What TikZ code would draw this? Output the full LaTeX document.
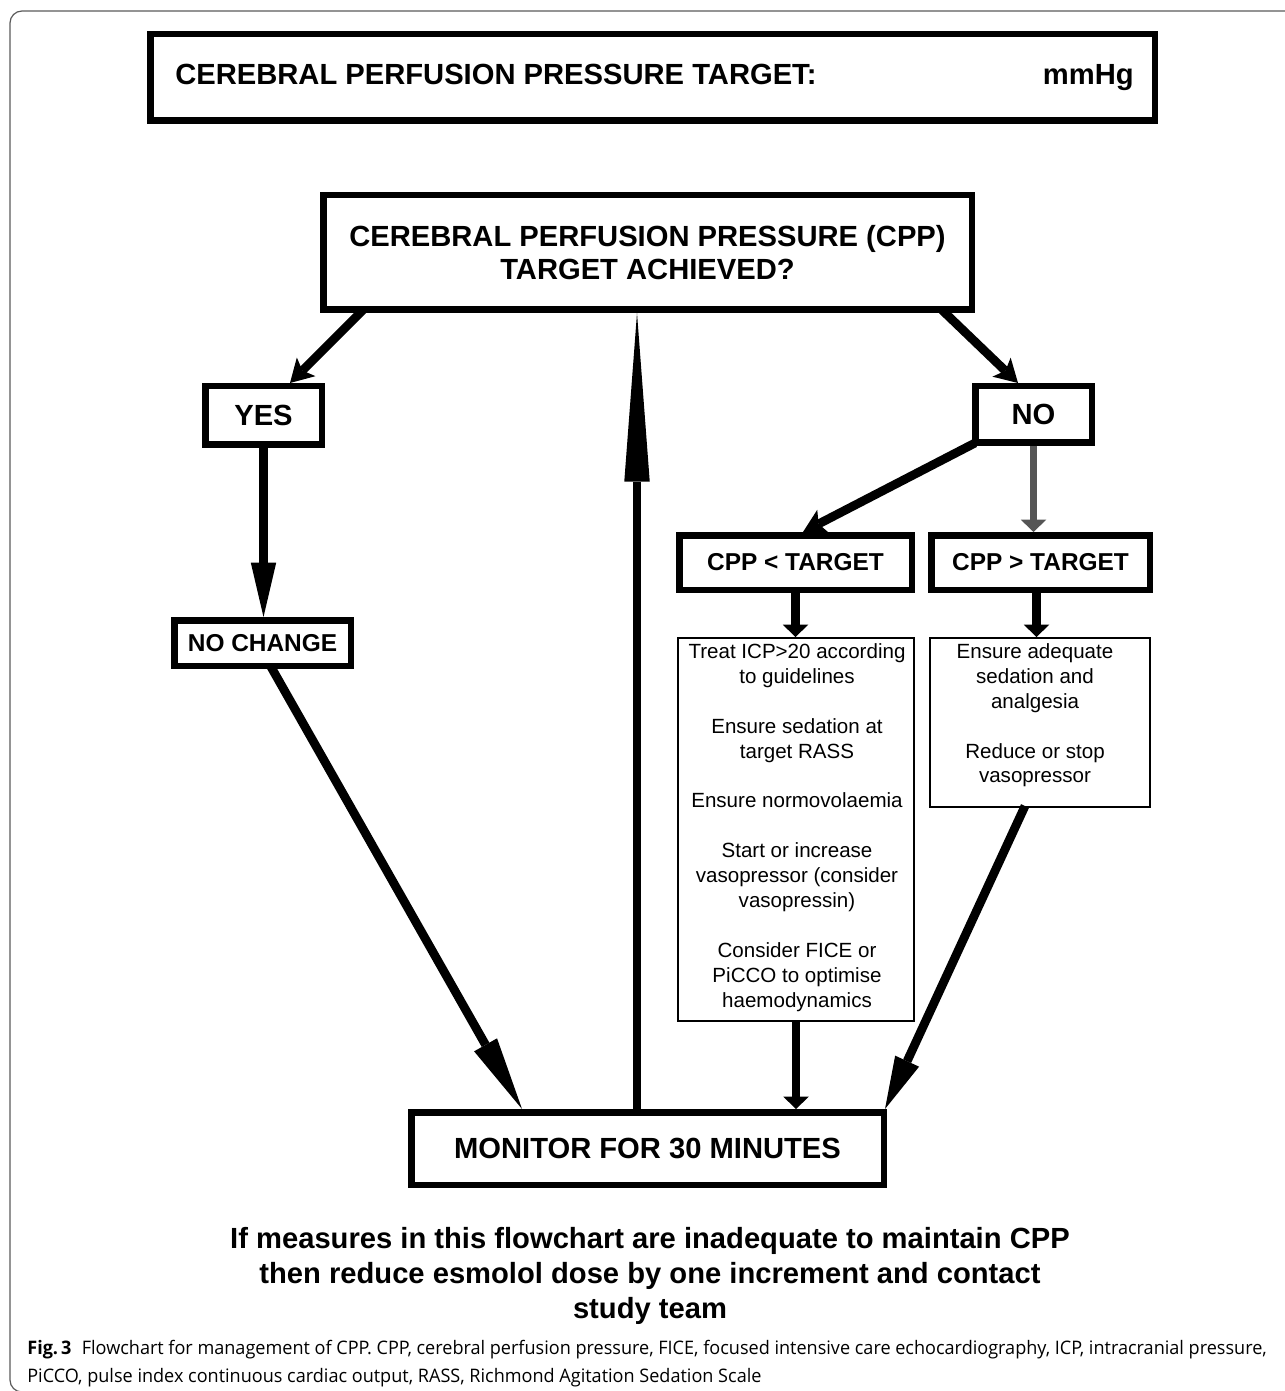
\documentclass[tikz,border=0pt]{standalone}
\usepackage{fontspec}
\setmainfont{Liberation Sans}
\newfontfamily\capfont[FakeStretch=0.97]{Open Sans}
\usetikzlibrary{arrows.meta,calc}
\definecolor{arrgray}{RGB}{85,85,85}
\definecolor{framegray}{RGB}{90,90,90}
\newcommand\headfont{\bfseries\fontsize{16.6}{18.7}\selectfont}
\newcommand\midfont{\bfseries\fontsize{13.9}{16}\selectfont}
\newcommand\bodyfont{\fontsize{11.7}{14.2}\selectfont}
\tikzset{
  hbox/.style n args={4}{draw, line width=3.7pt, inner sep=0pt, align=center, font=\headfont,
    at={({(#1+#3)/2},{(#2+#4)/2})},
    minimum width={(#3-#1-6.5)*0.02cm}, minimum height={(#4-#2-6.5)*0.02cm}},
  lbox/.style n args={4}{draw, line width=0.9pt, inner sep=0pt,
    at={({(#1+#3)/2},{(#2+#4)/2})},
    minimum width={(#3-#1-1.6)*0.02cm}, minimum height={(#4-#2-1.6)*0.02cm}},
  btext/.style={font=\bodyfont, align=center, anchor=north, inner sep=0pt},
  captext/.style={anchor=base west, inner sep=0pt, font=\capfont\fontsize{10.6}{16}\selectfont},
  arr/.style={line width=5pt},
  garr/.style={line width=4.5pt, draw=arrgray},
  barb/.style={-{Stealth[length=13pt,width=15pt,inset=3pt,line width=0pt]}},
  shorttip/.style={-{Triangle[length=7pt,width=14.5pt,line width=0pt]}},
}
\begin{document}
\begin{tikzpicture}[x=0.02cm,y=-0.02cm]
\useasboundingbox (0,0) rectangle (1284,1391);
\draw[framegray, line width=0.7pt, rounded corners=0.24cm] (10,11) rectangle (1300,1392);

% boxes
\node[hbox={147}{31}{1158}{124}] (T) {};
\node[anchor=base west, font=\headfont, inner sep=0pt] (Tl) at (175,85) {CEREBRAL PERFUSION PRESSURE TARGET:};
\node[anchor=base east, font=\headfont, inner sep=0pt] (Tr) at (1134,85) {mmHg};
\node[hbox={320}{192}{975}{313}] (Q) {CEREBRAL PERFUSION PRESSURE (CPP)\\TARGET ACHIEVED?};
\node[hbox={202}{383}{325}{448}] (YES) {YES};
\node[hbox={972}{383}{1095}{446}] (NO) {NO};
\node[hbox={171}{617}{354}{669}, font=\midfont] (NOCH) {NO CHANGE};
\node[hbox={676}{532}{915}{593}, font=\midfont] (LT) {CPP < TARGET};
\node[hbox={928}{532}{1153}{593}, font=\midfont] (GT) {CPP > TARGET};
\node[lbox={677}{637}{915}{1022}] (LB) {};
\node[lbox={929}{637}{1151}{808}] (RB) {};
\node[hbox={408}{1109}{887}{1188}] (MON) {MONITOR FOR 30 MINUTES};

\node[btext] (LBt) at (797,643) {Treat ICP>20 according\\to guidelines\\[14.2pt]Ensure sedation at\\target RASS\\[14.2pt]Ensure normovolaemia\\[14.2pt]Start or increase\\vasopressor (consider\\vasopressin)\\[14.2pt]Consider FICE or\\PiCCO to optimise\\haemodynamics};
\node[btext] (RBt) at (1035,643) {Ensure adequate\\sedation and\\analgesia\\[14.2pt]Reduce or stop\\vasopressor};

% connector end points
\coordinate (qy) at ($(Q.south)+(-284.5,-3)$);
\coordinate (yq) at ($(YES.north)+(26.5,0)$);
\coordinate (qn) at ($(Q.south)+(294.5,-3)$);
\coordinate (nq) at ($(NO.north)+(-15.5,0)$);
\coordinate (ncm) at ($(NOCH.south)+(8,-3)$);
\coordinate (mnc) at ($(MON.north)+(-125.5,0)$);
\coordinate (mq) at ($(MON.north)+(-10.5,0)$);
\coordinate (nl) at ($(NO.south west)+(3,-3)$);
\coordinate (ln) at ($(LT.north)+(7.5,0)$);
\coordinate (gr) at ($(GT.south)+(-4,0)$);
\coordinate (rm) at ($(RB.south)+(-15,-2)$);
\coordinate (mr) at ($(MON.north east)+(-2,0)$);

% arrows
\draw[arr, barb] (qy) -- (yq);
\draw[arr, barb] (qn) -- (nq);
\draw[arr, -{Triangle[length=31pt,width=14.5pt,line width=0pt]}] (YES.south) -- (YES.south |- NOCH.north);
\draw[arr, -{Triangle[length=42pt,width=15pt,line width=0pt]}] (ncm) -- (mnc);
\draw[arr, -{Triangle[length=96pt,width=14.5pt,line width=0pt]}] (mq) -- (mq |- Q.south);
\draw[arr, barb] (nl) -- (ln);
\draw[garr, shorttip] (NO.south) -- (NO.south |- GT.north);
\draw[arr, shorttip] (LT.south) -- (LT.south |- LB.north);
\draw[arr, shorttip] (gr) -- (gr |- RB.north);
\draw[arr, shorttip] (LB.south) -- (LB.south |- MON.north);
\draw[arr, -{Triangle[length=30pt,width=15pt,line width=0pt]}] (rm) -- (mr);

% footer
\node[font=\bfseries\fontsize{16.6}{19.8}\selectfont, align=center, anchor=north, inner sep=0pt] (foot) at (650,1227) {If measures in this flowchart are inadequate to maintain CPP\\then reduce esmolol dose by one increment and contact\\study team};

\node[captext] (cap1) at (27,1354) {\textbf{Fig.\,3}\hspace{0.55em}Flowchart for management of CPP. CPP, cerebral perfusion pressure, FICE, focused intensive care echocardiography, ICP, intracranial pressure,};
\node[captext] (cap2) at (27,1382) {PiCCO, pulse index continuous cardiac output, RASS, Richmond Agitation Sedation Scale};
\end{tikzpicture}
\end{document}
